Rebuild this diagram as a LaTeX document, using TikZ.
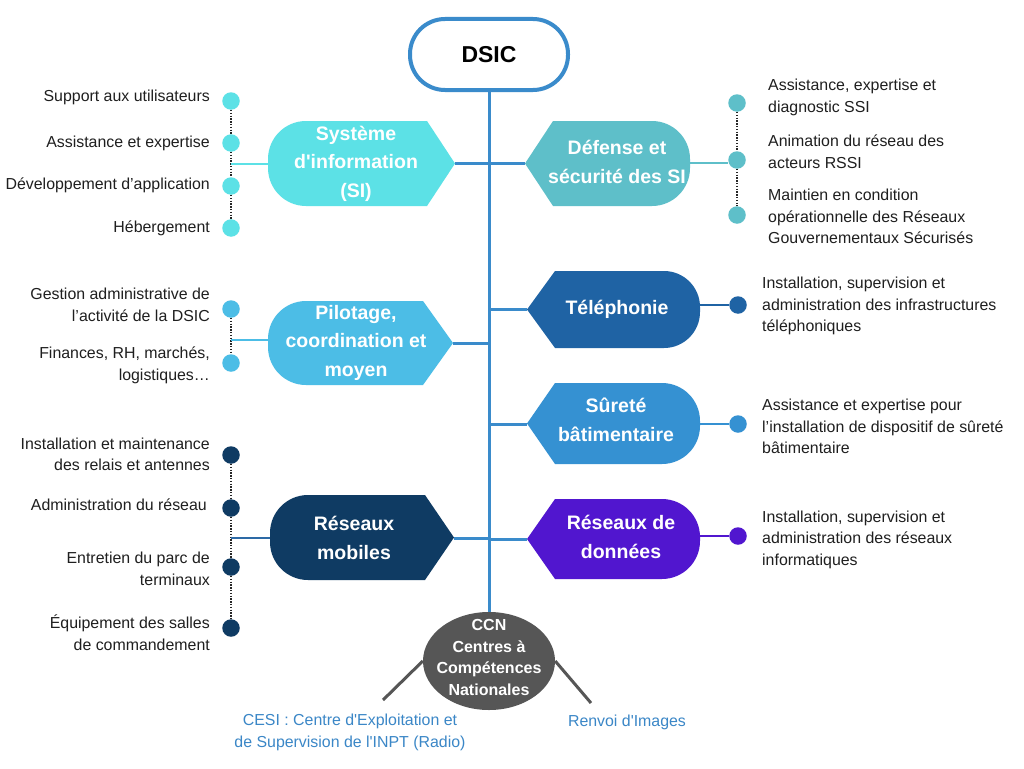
\documentclass[tikz,border=0pt]{standalone}
\usepackage{fontspec}
\setmainfont{Liberation Sans}[Ligatures=TeXOff]
\usetikzlibrary{shapes.geometric}
\definecolor{cSI}{HTML}{5CE1E6}
\definecolor{cDef}{HTML}{5EBFC9}
\definecolor{cPil}{HTML}{4CBDE6}
\definecolor{cTel}{HTML}{1F63A4}
\definecolor{cSur}{HTML}{3591D2}
\definecolor{cMob}{HTML}{0F3B63}
\definecolor{cMobLine}{HTML}{2D6AA6}
\definecolor{cDon}{HTML}{5116CF}
\definecolor{cCCN}{HTML}{565656}
\definecolor{cTrunk}{HTML}{3A8BCB}
\definecolor{cBlueText}{HTML}{3B87C7}
% left-rounded, right-pointed shape: x1, xc, xp, ytop, ybot, colour, radius
\newcommand\LShape[7]{%
  \fill[#6] (#3,{-(#4+#5)/2}) -- (#2,-#4) -- ({#1+#7},-#4)
    arc[start angle=90,end angle=180,radius=#7pt] -- (#1,{-#5+#7})
    arc[start angle=180,end angle=270,radius=#7pt] -- (#2,-#5) -- cycle;}
% left-pointed, right-rounded shape: xp, xc, x2, ytop, ybot, colour, radius
\newcommand\RShape[7]{%
  \fill[#6] (#1,{-(#4+#5)/2}) -- (#2,-#4) -- ({#3-#7},-#4)
    arc[start angle=90,end angle=0,radius=#7pt] -- (#3,{-#5+#7})
    arc[start angle=0,end angle=-90,radius=#7pt] -- (#2,-#5) -- cycle;}
\tikzset{
  box/.style={text=white, font=\fontsize{19.5}{28.5}\selectfont\bfseries, align=center, inner sep=0pt},
  desc/.style={font=\fontsize{15.9}{21.6}\selectfont, inner sep=0pt, text=black!88},
  descL/.style={desc, anchor=east, align=right},
  descR/.style={desc, anchor=west, align=left},
  dot/.style={circle, minimum size=17.5pt, inner sep=0pt},
  dotline/.style={line width=1.6pt, dash pattern=on 1.5pt off 1.3pt, black!85},
  trunk/.style={line width=3pt, cTrunk},
  side/.style={line width=2.4pt},
}
\begin{document}
\begin{tikzpicture}[x=1pt,y=1pt]
\useasboundingbox (0,0) rectangle (1024,-768);
\fill[white] (0,0) rectangle (1024,-768);

% ---------- shapes ----------
\LShape{268}{427}{455}{121}{206}{cSI}{38}
\LShape{268}{423}{453}{301}{385}{cPil}{38}
\LShape{270}{425}{454}{495}{580}{cMob}{38}
\RShape{525}{553}{690}{121}{206}{cDef}{38}
\RShape{527}{555}{700}{271}{348}{cTel}{36}
\RShape{527}{555}{700}{383}{464}{cSur}{38}
\RShape{527}{555}{700}{499}{579}{cDon}{38}

% tips and edges
\coordinate (si-tip) at (455,-163.5);
\coordinate (si-left) at (268,-164);
\coordinate (pil-tip) at (453,-343);
\coordinate (pil-left) at (268,-340);
\coordinate (mob-tip) at (454,-538);
\coordinate (mob-left) at (270,-538);
\coordinate (def-tip) at (525,-163.5);
\coordinate (def-right) at (690,-163);
\coordinate (tel-tip) at (527,-309);
\coordinate (tel-right) at (700,-305);
\coordinate (sur-tip) at (527,-424);
\coordinate (sur-right) at (700,-424);
\coordinate (don-tip) at (527,-539);
\coordinate (don-right) at (700,-536);

% ---------- centre nodes ----------
\node[draw=cTrunk, line width=4pt, rounded corners=35pt, minimum width=158pt,
      minimum height=71pt, inner sep=0pt, font=\fontsize{23}{28}\selectfont\bfseries]
      (dsic) at (489,-54.5) {DSIC};
\node[ellipse, fill=cCCN, minimum width=132pt, minimum height=98pt, inner sep=0pt]
      (ccn) at (489,-661) {};
\node[box, font=\fontsize{16}{21.8}\selectfont\bfseries] (ccntext) at (489,-657.5)
      {CCN\\Centres à\\Compétences\\Nationales};

\draw[trunk] (dsic.south) -- (ccn.north);
\foreach \t in {si-tip,pil-tip,mob-tip,def-tip,tel-tip,sur-tip,don-tip}
  \draw[trunk] (\t) -- (\t -| dsic.south);

% ---------- shape texts ----------
\node[box] (si) at (356,-163.5) {Système\\d'information\\(SI)};
\node[box] (pil) at (356,-342.5) {Pilotage,\\coordination et\\moyen};
\node[box] (mob) at (354,-538) {Réseaux\\mobiles};
\node[box] (def) at (617,-162) {Défense et\\sécurité des SI};
\node[box] (tel) at (617,-309) {Téléphonie};
\node[box] (sur) at (616,-420) {Sûreté\\bâtimentaire};
\node[box] (don) at (621,-537) {Réseaux de\\données};

% ---------- left bullets ----------
\node[dot, fill=cSI] (si1) at (231,-101) {};
\node[dot, fill=cSI] (si2) at (231,-143) {};
\node[dot, fill=cSI] (si3) at (231,-186) {};
\node[dot, fill=cSI] (si4) at (231,-228) {};
\draw[dotline] (si1) -- (si2); \draw[dotline] (si2) -- (si3); \draw[dotline] (si3) -- (si4);
\draw[side, line width=2pt, cSI] (si-left) -- (si-left -| si1);

\node[dot, fill=cPil] (pil1) at (231,-309) {};
\node[dot, fill=cPil] (pil2) at (231,-363) {};
\draw[dotline] (pil1) -- (pil2);
\draw[side, line width=2pt, cPil] (pil-left) -- (pil-left -| pil1);

\node[dot, fill=cMob] (mob1) at (231,-455) {};
\node[dot, fill=cMob] (mob2) at (231,-508) {};
\node[dot, fill=cMob] (mob3) at (231,-567) {};
\node[dot, fill=cMob] (mob4) at (231,-628) {};
\draw[dotline] (mob1) -- (mob2); \draw[dotline] (mob2) -- (mob3); \draw[dotline] (mob3) -- (mob4);
\draw[side, line width=2pt, cMobLine] (mob-left) -- (mob-left -| mob1);

% ---------- right bullets ----------
\node[dot, fill=cDef] (def1) at (737,-103) {};
\node[dot, fill=cDef] (def2) at (737,-160) {};
\node[dot, fill=cDef] (def3) at (737,-215) {};
\draw[dotline] (def1) -- (def2); \draw[dotline] (def2) -- (def3);
\draw[side, line width=2pt, cDef] (def-right) -- (def-right -| def2.west);

\node[dot, fill=cTel] (tel1) at (738,-305) {};
\draw[side, cTel] (tel-right) -- (tel1);
\node[dot, fill=cSur] (sur1) at (738,-424) {};
\draw[side, cSur] (sur-right) -- (sur1);
\node[dot, fill=cDon] (don1) at (738,-536) {};
\draw[side, cDon] (don-right) -- (don1);

% ---------- left descriptions ----------
\node[descL] (t-si1) at (210,-97) {Support aux utilisateurs};
\node[descL] (t-si2) at (210,-143) {Assistance et expertise};
\node[descL] (t-si3) at (210,-185) {Développement d’application};
\node[descL] (t-si4) at (210,-228) {Hébergement};
\node[descL] (t-pil1) at (210,-305) {Gestion administrative de\\l’activité de la DSIC};
\node[descL] (t-pil2) at (210,-365) {Finances, RH, marchés,\\logistiques…};
\node[descL] (t-mob1) at (210,-454.5) {Installation et maintenance\\des relais et antennes};
\node[descL] (t-mob2) at (207,-505) {Administration du réseau};
\node[descL] (t-mob3) at (210,-569) {Entretien du parc de\\terminaux};
\node[descL] (t-mob4) at (210,-632.5) {Équipement des salles\\de commandement};

% ---------- right descriptions ----------
\node[descR] (t-def1) at (768,-97.5) {Assistance, expertise et\\diagnostic SSI};
\node[descR] (t-def2) at (768,-152) {Animation du réseau des\\acteurs RSSI};
\node[descR] (t-def3) at (768,-216.5) {Maintien en condition\\opérationnelle des Réseaux\\Gouvernementaux Sécurisés};
\node[descR] (t-tel) at (762,-306) {Installation, supervision et\\administration des infrastructures\\téléphoniques};
\node[descR] (t-sur) at (762,-426.5) {Assistance et expertise pour\\l’installation de dispositif de sûreté\\bâtimentaire};
\node[descR] (t-don) at (762,-539.5) {Installation, supervision et\\administration des réseaux\\informatiques};

% ---------- CCN branches ----------
\coordinate (cesi-end) at (383,-700);
\coordinate (renvoi-end) at (591,-703);
\draw[line width=3pt, cCCN] (ccn.west) -- (cesi-end);
\draw[line width=3pt, cCCN] (ccn.east) -- (renvoi-end);
\node[desc, text=cBlueText, align=center] (cesi) at (350,-732.5)
  {CESI : Centre d'Exploitation et\\de Supervision de l'INPT (Radio)};
\node[desc, text=cBlueText] (renvoi) at (627,-722) {Renvoi d'Images};
\end{tikzpicture}
\end{document}
